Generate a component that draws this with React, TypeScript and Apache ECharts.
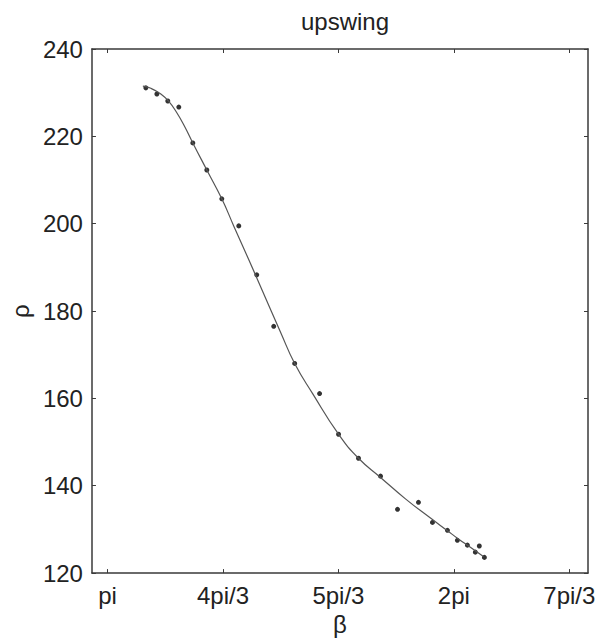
import React, { useEffect, useRef } from "react";
import * as echarts from "echarts";

const pointBeta = [3.489, 3.589, 3.688, 3.788, 3.915, 4.042, 4.178, 4.332, 4.495, 4.649, 4.839, 5.065, 5.237, 5.418, 5.618, 5.772, 5.962, 6.089, 6.225, 6.315, 6.406, 6.478, 6.514, 6.56];
const pointRho = [231.1, 229.7, 228.1, 226.7, 218.5, 212.3, 205.7, 199.5, 188.3, 176.5, 168.0, 161.1, 151.8, 146.3, 142.2, 134.6, 136.2, 131.6, 129.8, 127.5, 126.4, 124.8, 126.2, 123.6];

const fitBeta = [3.462, 3.534, 3.625, 3.697, 3.77, 3.842, 3.915, 4.042, 4.178, 4.286, 4.422, 4.549, 4.712, 4.839, 5.002, 5.237, 5.418, 5.618, 5.844, 6.071, 6.225, 6.315, 6.433, 6.551];
const fitRho = [231.5, 231.0, 229.7, 228.0, 225.4, 222.2, 218.5, 212.3, 205.7, 199.5, 191.8, 184.5, 175.1, 168.0, 161.1, 151.8, 146.3, 141.9, 137.0, 132.6, 129.7, 128.0, 125.9, 123.8];

const xTickValues = [Math.PI, (4 * Math.PI) / 3, (5 * Math.PI) / 3, 2 * Math.PI, (7 * Math.PI) / 3];
const xTickLabels = ["pi", "4pi/3", "5pi/3", "2pi", "7pi/3"];
const yTicks = [120, 140, 160, 180, 200, 220, 240];

const FONT = "Liberation Sans, Arial, Helvetica, sans-serif";
const AXIS_COLOR = "#3a3a3a";

export default function App() {
  const ref = useRef<HTMLDivElement>(null);
  useEffect(() => {
    if (!ref.current) return;
    const chart = echarts.init(ref.current, null, { renderer: "svg" });
    const xLabel = (v: number) => {
      const i = xTickValues.findIndex((t) => Math.abs(t - v) < 1e-6);
      return i >= 0 ? xTickLabels[i] : "";
    };
    const baseX = {
      type: "value" as const,
      min: 3,
      max: 7.5,
      splitLine: { show: false },
      axisLine: { show: true, onZero: false, lineStyle: { color: AXIS_COLOR, width: 1.5 } },
      axisTick: { show: true, inside: true, length: 4, customValues: xTickValues, lineStyle: { color: AXIS_COLOR } },
    };
    const baseY = {
      type: "value" as const,
      min: 120,
      max: 240,
      interval: 20,
      splitLine: { show: false },
      axisLine: { show: true, onZero: false, lineStyle: { color: AXIS_COLOR, width: 1.5 } },
      axisTick: { show: true, inside: true, length: 4, lineStyle: { color: AXIS_COLOR } },
    };
    chart.setOption({
      animation: false,
      backgroundColor: "#fff",
      title: {
        text: "upswing",
        left: 340,
        top: 4,
        textAlign: "center",
        textStyle: { fontFamily: FONT, fontSize: 24, fontWeight: "normal", color: "#222" },
      },
      grid: { left: 91, top: 49, width: 497, height: 525, containLabel: false },
      xAxis: [
        {
          ...baseX,
          position: "bottom",
          name: "β",
          nameLocation: "middle",
          nameGap: 36,
          nameTextStyle: { fontFamily: FONT, fontSize: 24, color: "#222" },
          axisLabel: {
            show: true,
            customValues: xTickValues,
            formatter: xLabel,
            margin: 10,
            fontFamily: FONT,
            fontSize: 24,
            color: "#222",
          },
        },
        { ...baseX, position: "top", axisLabel: { show: false } },
      ],
      yAxis: [
        {
          ...baseY,
          position: "left",
          name: "ρ",
          nameLocation: "middle",
          nameGap: 52,
          nameRotate: 90,
          nameTextStyle: { fontFamily: FONT, fontSize: 24, color: "#222" },
          axisLabel: {
            show: true,
            margin: 9,
            fontFamily: FONT,
            fontSize: 24,
            color: "#222",
            formatter: (v: number) => (yTicks.includes(v) ? String(v) : ""),
          },
        },
        { ...baseY, position: "right", axisLabel: { show: false } },
      ],
      series: [
        {
          type: "line",
          data: fitBeta.map((b, i) => [b, fitRho[i]]),
          smooth: true,
          showSymbol: false,
          symbol: "none",
          lineStyle: { color: "#555", width: 1.2 },
          xAxisIndex: 0,
          yAxisIndex: 0,
          silent: true,
        },
        {
          type: "scatter",
          data: pointBeta.map((b, i) => [b, pointRho[i]]),
          symbol: "circle",
          symbolSize: 5,
          itemStyle: { color: "#000" },
          xAxisIndex: 0,
          yAxisIndex: 0,
        },
      ],
    });
    return () => chart.dispose();
  }, []);
  return (
    <div
      ref={ref}
      style={{ position: "fixed", left: 0, top: 0, width: 601, height: 641, background: "#fff" }}
    />
  );
}
